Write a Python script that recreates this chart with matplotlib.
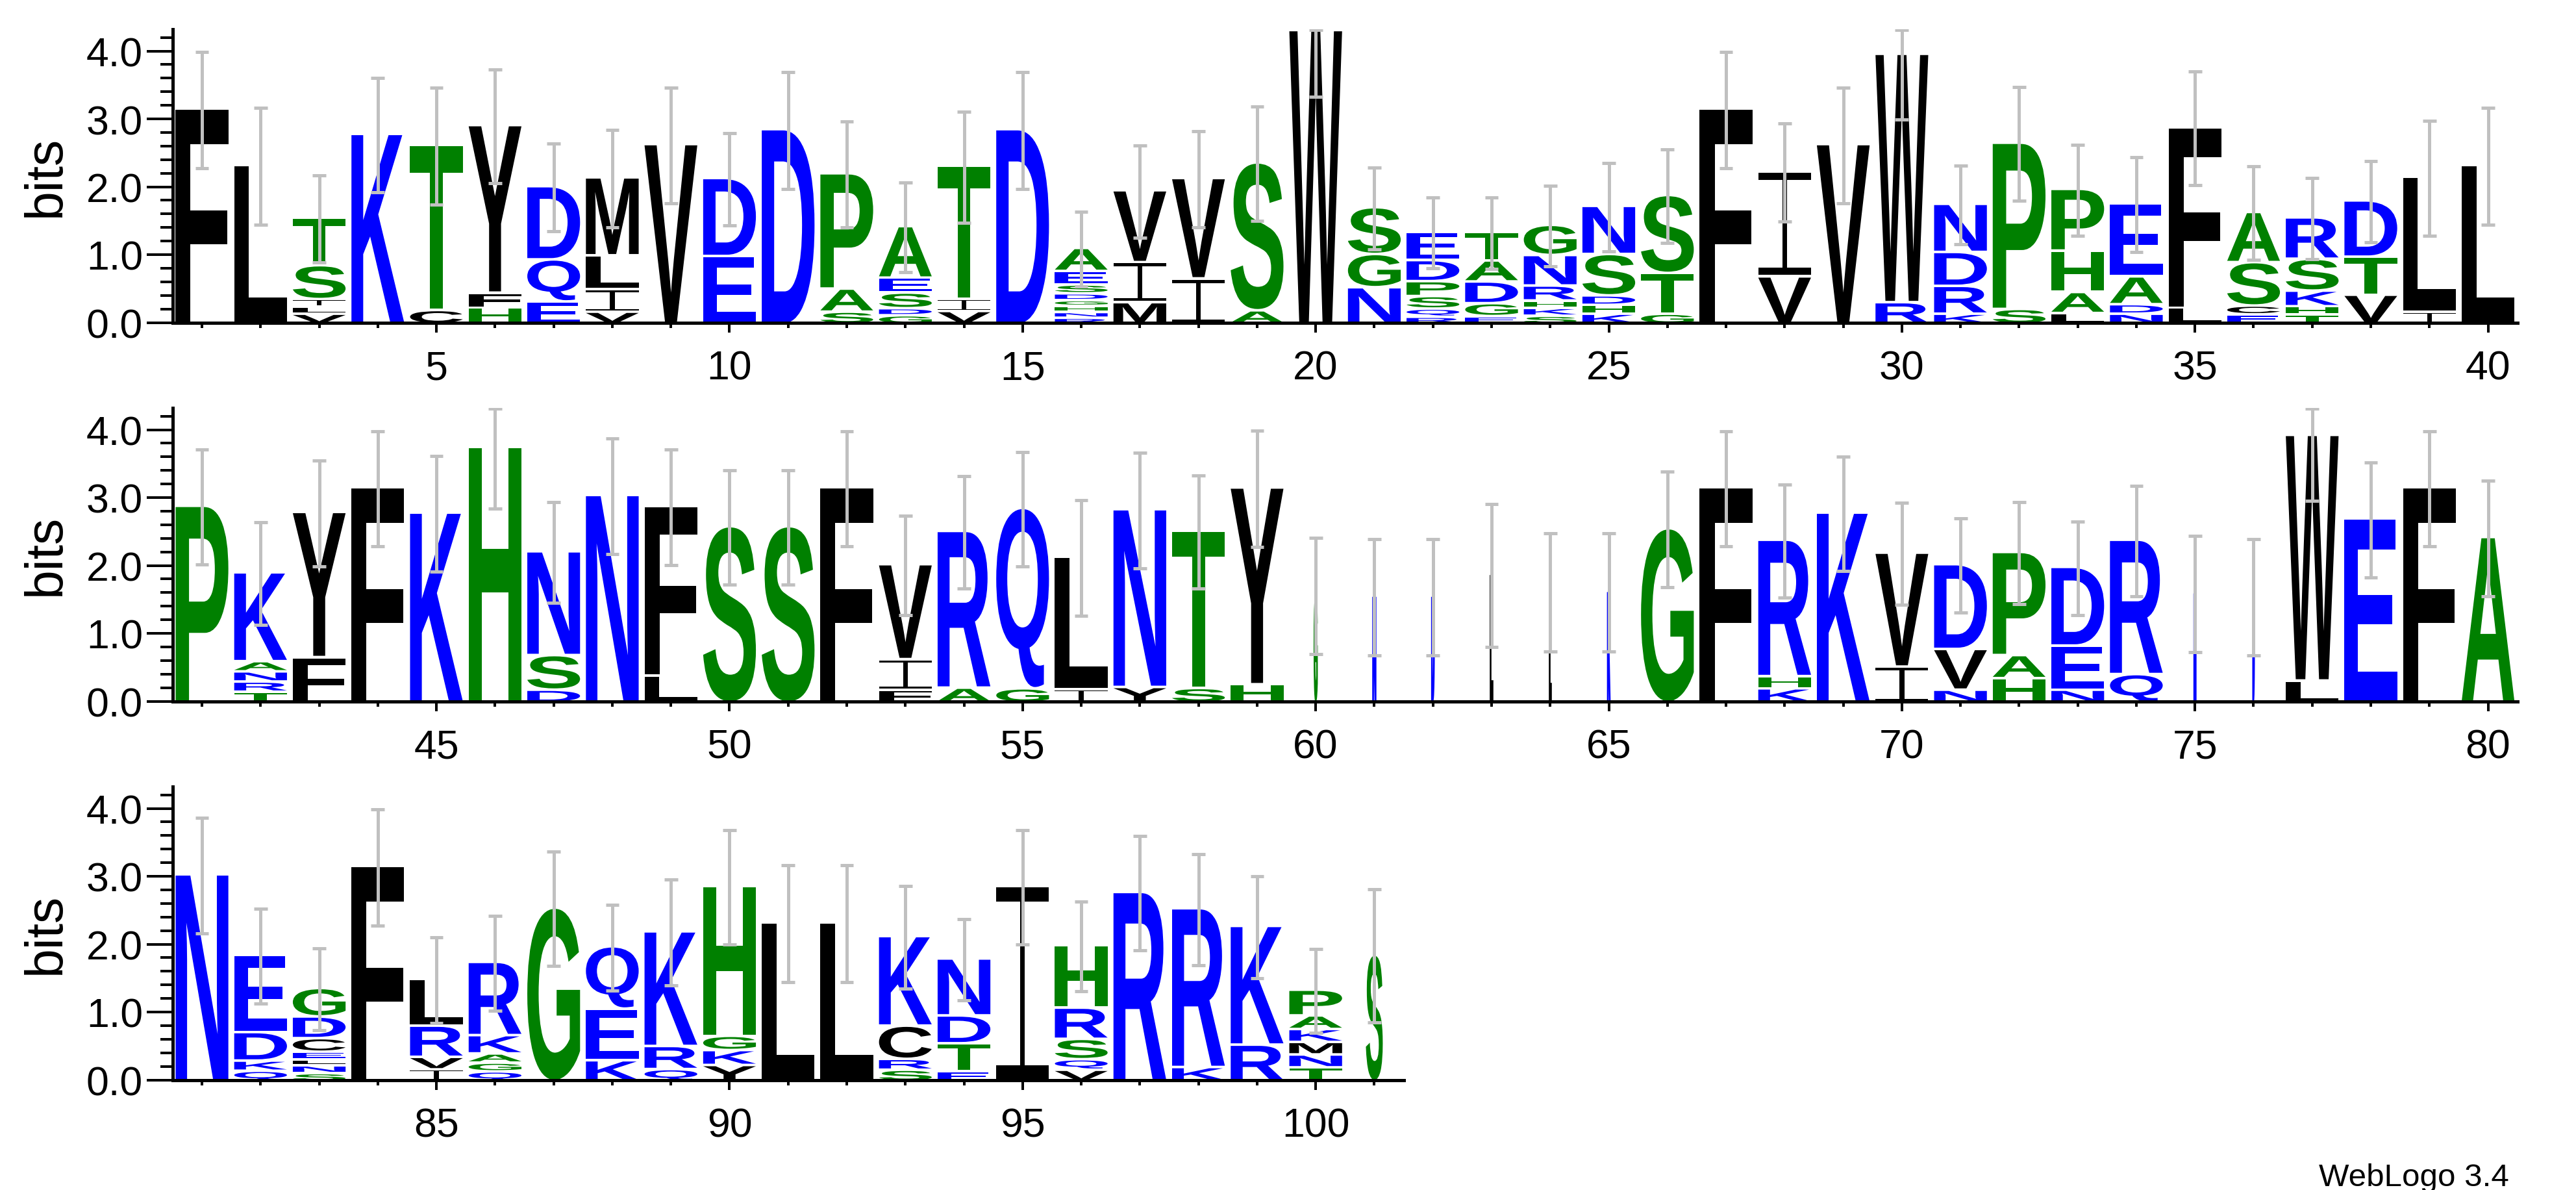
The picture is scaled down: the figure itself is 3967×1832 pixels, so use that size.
import numpy as np
import matplotlib
matplotlib.use("Agg")
import matplotlib.pyplot as plt
from matplotlib.textpath import TextPath
from matplotlib.font_manager import FontProperties
from matplotlib.patches import PathPatch
from matplotlib.path import Path
from matplotlib.transforms import Affine2D
from matplotlib.ticker import MultipleLocator, FixedLocator

# ---------------- data (letters bottom -> top, heights in bits) ----------------
positions = list(range(1, 102))

stack_letters = [
    "F", "L", "VLIST", "K", "CT", "HFY", "EQD", "VILM", "V", "ED",
    "D", "SAP", "GDSEA", "VIT", "D", "RNHGDSEA", "MIV", "IV", "AS", "W",
    "NGS", "RQSPDE", "EGDAT", "SKHRNG", "KHDSN", "GTS", "F", "VI", "V", "RW",
    "KRDN", "SP", "LAHP", "NDAE", "LF", "ECSA", "THKSR", "VTD", "IL", "L",
    "P", "TRNAK", "FY", "F", "K", "H", "DSN", "N", "LF", "S",
    "S", "F", "FIV", "AR", "GQ", "IL", "YN", "ST", "HY", "G",
    "N", "D", "L", "L", "K", "G", "F", "KHR", "K", "IV",
    "NVD", "HAP", "NED", "QR", "N", "D", "LW", "E", "F", "A",
    "N", "QKDE", "SNLECDG", "F", "IVRL", "QGAKR", "G", "KEQ", "QRK", "YKGH",
    "L", "L", "SRCK", "ETDN", "I", "VQSRH", "R", "KR", "RK", "TNMKAP",
    "S",
]

stack_heights = [
    [3.13], [2.30], [0.13, 0.10, 0.115, 0.50, 0.68], [2.76], [0.185, 2.41],
    [0.22, 0.22, 2.45], [0.31, 0.62, 1.06], [0.16, 0.33, 0.50, 1.13], [2.61], [0.98, 1.13],
    [2.83], [0.16, 0.34, 1.68], [0.107, 0.104, 0.23, 0.22, 0.74], [0.17, 0.18, 1.94], [2.83],
    [0.07, 0.085, 0.09, 0.085, 0.10, 0.13, 0.20, 0.32], [0.30, 0.59, 1.04], [0.65, 1.46], [0.18, 2.16], [4.29],
    [0.52, 0.49, 0.67], [0.085, 0.12, 0.185, 0.22, 0.31, 0.40], [0.095, 0.19, 0.32, 0.31, 0.40],
    [0.10, 0.115, 0.11, 0.22, 0.45, 0.425], [0.13, 0.13, 0.14, 0.61, 0.69],
    [0.13, 0.60, 1.13], [3.13], [0.68, 1.53], [2.61], [0.30, 3.64],
    [0.13, 0.41, 0.50, 0.69], [0.20, 2.43], [0.14, 0.31, 0.61, 0.89], [0.13, 0.14, 0.41, 1.06], [0.22, 2.64],
    [0.12, 0.13, 0.64, 0.72], [0.115, 0.125, 0.23, 0.47, 0.59], [0.41, 0.56, 0.81], [0.155, 1.97], [2.30],
    [2.86], [0.14, 0.15, 0.15, 0.15, 1.29], [0.65, 2.12], [3.13], [2.76],
    [3.73], [0.17, 0.51, 1.51], [3.02], [0.375, 2.48], [2.56],
    [2.56], [3.13], [0.17, 0.45, 1.38], [0.20, 2.29], [0.19, 2.64],
    [0.18, 1.93], [0.21, 2.60], [0.195, 2.30], [0.25, 2.88], [1.55],
    [1.53], [1.53], [1.85], [1.60], [1.60],
    [2.53], [3.13], [0.19, 0.18, 1.99], [2.76], [0.51, 1.66],
    [0.17, 0.60, 1.23], [0.34, 0.34, 1.50], [0.17, 0.65, 1.14], [0.40, 1.96], [1.58],
    [1.53], [0.305, 3.60], [2.67], [3.13], [2.40],
    [3.01], [0.135, 0.15, 0.42, 1.12], [0.10, 0.115, 0.09, 0.11, 0.20, 0.32, 0.40], [3.13],
    [0.155, 0.185, 0.46, 0.67], [0.125, 0.13, 0.135, 0.27, 1.06], [2.52], [0.29, 0.76, 0.90],
    [0.16, 0.34, 1.67], [0.22, 0.22, 0.21, 2.19],
    [2.30], [2.30], [0.15, 0.16, 0.49, 1.30], [0.13, 0.41, 0.41, 0.82], [2.84],
    [0.15, 0.155, 0.30, 0.46, 0.90], [2.75], [0.19, 2.32], [0.52, 1.73],
    [0.185, 0.19, 0.185, 0.19, 0.20, 0.36],
    [1.83],
]

error_half = [
    0.86, 0.86, 0.64, 0.84, 0.86, 0.84, 0.65, 0.72, 0.85, 0.68,
    0.86, 0.78, 0.66, 0.82, 0.86, 0.55, 0.68, 0.71, 0.84, 0.96,
    0.60, 0.52, 0.53, 0.59, 0.65, 0.69, 0.86, 0.72, 0.85, 0.95,
    0.58, 0.84, 0.67, 0.70, 0.84, 0.69, 0.60, 0.60, 0.85, 0.86,
    0.85, 0.76, 0.78, 0.85, 0.85, 0.89, 0.74, 0.85, 0.85, 0.84,
    0.84, 0.85, 0.73, 0.83, 0.84, 0.85, 0.85, 0.83, 0.86, 0.86,
    0.86, 0.86, 1.05, 0.87, 0.87, 0.85, 0.85, 0.83, 0.84, 0.75,
    0.69, 0.75, 0.69, 0.81, 0.86, 0.86, 0.95, 0.85, 0.85, 0.85,
    0.85, 0.70, 0.60, 0.86, 0.63, 0.70, 0.84, 0.63, 0.78, 0.84,
    0.86, 0.86, 0.76, 0.60, 0.84, 0.66, 0.84, 0.82, 0.75, 0.62,
    0.98,
]

# fraction of non-gap residues in each column (scales stack width)
column_occupancy = [1.0] * 101
for p, f in {60: 0.06, 61: 0.06, 62: 0.05, 63: 0.04, 64: 0.04, 65: 0.05,
             75: 0.04, 76: 0.03, 101: 0.32}.items():
    column_occupancy[p - 1] = f

row_ranges = [(1, 40), (41, 80), (81, 101)]
ytick_values = [0, 1, 2, 3, 4]
ytick_labels = ["0.0", "1.0", "2.0", "3.0", "4.0"]

# ---------------- style ----------------
BLUE, GREEN, BLACK = "#0000ff", "#008000", "#000000"
color_of = {}
for c in "RKDENQ":
    color_of[c] = BLUE
for c in "SGHTAP":
    color_of[c] = GREEN
for c in "YVMCLFIW":
    color_of[c] = BLACK

YMAX = 4.32
PX = 72.0 / 100.0  # points per pixel at dpi 100
LETTER_W = 0.9
GAP = 0.038

GLYPH_FP = FontProperties(family="Liberation Sans", weight="bold")
_glyph_cache = {}


def serif_I():
    t, s = 0.075, 0.09
    verts = [(0, 0), (1, 0), (1, t), (0.5 + s / 2, t), (0.5 + s / 2, 1 - t), (1, 1 - t),
             (1, 1), (0, 1), (0, 1 - t), (0.5 - s / 2, 1 - t), (0.5 - s / 2, t), (0, t), (0, 0)]
    codes = [Path.MOVETO] + [Path.LINETO] * 11 + [Path.CLOSEPOLY]
    return Path(verts, codes)


def glyph(ch):
    if ch not in _glyph_cache:
        if ch == "I":
            _glyph_cache[ch] = serif_I()
        else:
            _glyph_cache[ch] = TextPath((0, 0), ch, size=1, prop=GLYPH_FP)
    return _glyph_cache[ch]


def draw_letter(ax, ch, x0, y0, w, h, thin=False):
    p = glyph(ch)
    ext = p.get_extents()
    tr = (Affine2D().translate(-ext.x0, -ext.y0)
          .scale(w / ext.width, h / ext.height).translate(x0, y0))
    col = color_of[ch]
    if thin:
        patch = PathPatch(tr.transform_path(p), facecolor=col, edgecolor=col,
                          lw=1.6 * PX, zorder=1)
    else:
        patch = PathPatch(tr.transform_path(p), facecolor=col, edgecolor="none",
                          lw=0, zorder=1)
    ax.add_patch(patch)


fig = plt.figure(figsize=(39.67, 18.33), dpi=100)
FW, FH = 3967.0, 1833.0
pos_px = 90.27
left_px = 265.9
baselines = [497.5, 1080.5, 1663.5]
px_per_bit = 104.5

for r, (a, b) in enumerate(row_ranges):
    n = b - a + 1
    ax = fig.add_axes([left_px / FW, 1 - baselines[r] / FH,
                       n * pos_px / FW, YMAX * px_per_bit / FH])
    ax.set_xlim(a - 0.5, b + 0.5)
    ax.set_ylim(0, YMAX)
    for s in ("top", "right"):
        ax.spines[s].set_visible(False)
    for s in ("left", "bottom"):
        ax.spines[s].set_linewidth(5 * PX)
    ax.yaxis.set_major_locator(FixedLocator(ytick_values))
    ax.set_yticklabels(ytick_labels)
    ax.yaxis.set_minor_locator(MultipleLocator(0.2))
    majors = [v for v in range(a, b + 1) if v % 5 == 0]
    ax.xaxis.set_major_locator(FixedLocator(majors))
    ax.set_xticklabels([str(v) for v in majors])
    ax.xaxis.set_minor_locator(FixedLocator(list(range(a, b + 1))))
    ax.tick_params(axis="y", which="major", length=40 * PX, width=4 * PX, pad=6 * PX,
                   labelsize=45)
    ax.tick_params(axis="y", which="minor", length=19 * PX, width=4 * PX)
    ax.tick_params(axis="x", which="major", length=15 * PX, width=4 * PX, pad=26 * PX,
                   labelsize=45)
    ax.tick_params(axis="x", which="minor", length=8 * PX, width=4 * PX)
    for lab in ax.get_xticklabels() + ax.get_yticklabels():
        lab.set_fontfamily("Liberation Sans")

    for p in range(a, b + 1):
        i = p - 1
        letters = stack_letters[i]
        heights = stack_heights[i]
        occ = column_occupancy[i]
        w = LETTER_W * occ
        x0 = p - w / 2
        y = 0.0
        nl = len(letters)
        for k, (ch, h) in enumerate(zip(letters, heights)):
            pb = 0 if k == 0 else GAP / 2
            pt = 0 if k == nl - 1 else GAP / 2
            hh = max(h - pb - pt, h * 0.4)
            draw_letter(ax, ch, x0, y + pb, w, hh, thin=occ < 0.1)
            y += h
        top = y
        lo = max(top - error_half[i], 0)
        hi = min(top + error_half[i], YMAX - 0.01)
        ecol = "#c0c0c0"
        ax.plot([p, p], [lo, hi], color=ecol, lw=5 * PX, solid_capstyle="butt", zorder=3)
        for yy in (lo, hi):
            ax.plot([p - 0.115, p + 0.115], [yy, yy], color=ecol, lw=5 * PX,
                    solid_capstyle="butt", zorder=3)

    fig.text(71 / FW, 1 - (baselines[r] - YMAX * px_per_bit / 2) / FH, "bits",
             rotation=90, ha="center", va="center", fontsize=58,
             fontfamily="Liberation Sans")

fig.text(3864 / FW, 1 - 1826 / FH, "WebLogo 3.4", ha="right", va="baseline",
         fontsize=35.5, fontfamily="Liberation Sans")

fig.savefig("out.png", dpi=100, facecolor="white")
